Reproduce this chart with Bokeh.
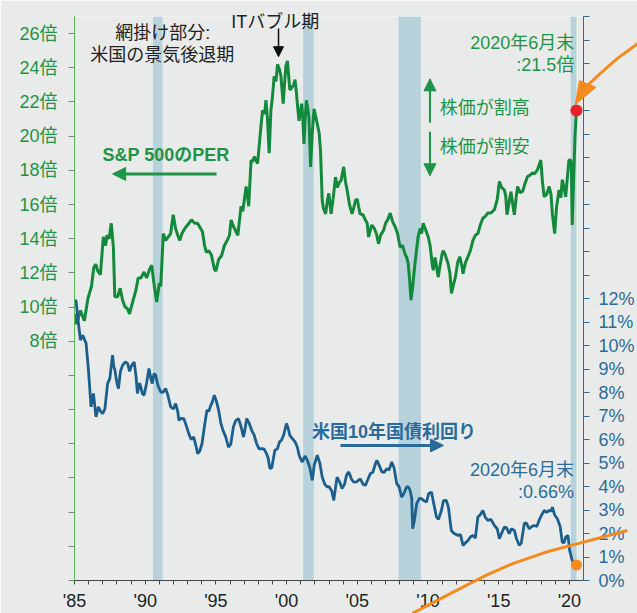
from bokeh.plotting import figure
from bokeh.models import Range1d, LinearAxis, FixedTicker, Label, Arrow, NormalHead
from bokeh.core.properties import value
from bokeh.embed import file_html
from bokeh.resources import INLINE

# ---------------- data ----------------
per_year = [1985.00, 1985.15, 1985.42, 1985.70, 1985.95, 1986.20, 1986.36, 1986.50, 1986.65, 1986.83,
            1987.04, 1987.20, 1987.30, 1987.45, 1987.60, 1987.75, 1987.85, 1988.05, 1988.23, 1988.40,
            1988.58, 1988.75, 1988.89, 1989.05, 1989.15, 1989.35, 1989.50, 1989.70, 1989.92, 1990.10,
            1990.30, 1990.46, 1990.60, 1990.81, 1991.00, 1991.10, 1991.28, 1991.45, 1991.63, 1991.80,
            1991.98, 1992.15, 1992.30, 1992.45, 1992.60, 1992.80, 1993.00, 1993.27, 1993.50, 1993.70,
            1993.85, 1994.05, 1994.20, 1994.33, 1994.50, 1994.68, 1994.90, 1995.00, 1995.20, 1995.40,
            1995.60, 1995.80, 1995.96, 1996.08, 1996.20, 1996.43, 1996.55, 1996.78, 1996.90, 1997.14,
            1997.25, 1997.32, 1997.49, 1997.60, 1997.72, 1997.95, 1998.19, 1998.30, 1998.45, 1998.54,
            1998.65, 1998.77, 1998.89, 1999.00, 1999.12, 1999.25, 1999.36, 1999.50, 1999.60, 1999.70,
            1999.76, 1999.85, 1999.95, 2000.06, 2000.15, 2000.23, 2000.41, 2000.50, 2000.60, 2000.70,
            2000.76, 2000.88, 2001.00, 2001.07, 2001.15, 2001.23, 2001.30, 2001.40, 2001.50, 2001.58,
            2001.70, 2001.80, 2001.94, 2002.05, 2002.17, 2002.30, 2002.40, 2002.52, 2002.60, 2002.76,
            2002.90, 2002.99, 2003.10, 2003.15, 2003.30, 2003.46, 2003.60, 2003.70, 2003.85, 2004.04,
            2004.15, 2004.28, 2004.45, 2004.63, 2004.75, 2004.87, 2005.00, 2005.10, 2005.20, 2005.40,
            2005.57, 2005.70, 2005.80, 2005.95, 2006.03, 2006.20, 2006.35, 2006.50, 2006.65, 2006.86,
            2007.00, 2007.15, 2007.33, 2007.50, 2007.68, 2007.85, 2008.03, 2008.20, 2008.38, 2008.50,
            2008.60, 2008.70, 2008.80, 2008.92, 2009.08, 2009.20, 2009.30, 2009.45, 2009.55, 2009.66,
            2009.80, 2010.02, 2010.15, 2010.30, 2010.37, 2010.50, 2010.60, 2010.72, 2010.85, 2011.00,
            2011.07, 2011.20, 2011.42, 2011.55, 2011.66, 2011.80, 2011.94, 2012.10, 2012.25, 2012.40,
            2012.48, 2012.65, 2012.83, 2013.00, 2013.18, 2013.35, 2013.53, 2013.70, 2013.88, 2014.05,
            2014.23, 2014.45, 2014.70, 2014.90, 2015.05, 2015.20, 2015.40, 2015.50, 2015.59, 2015.75,
            2015.87, 2016.00, 2016.11, 2016.25, 2016.34, 2016.50, 2016.69, 2016.85, 2017.05, 2017.20,
            2017.40, 2017.55, 2017.75, 2017.90, 2017.98, 2018.10, 2018.22, 2018.40, 2018.57, 2018.70,
            2018.80, 2018.96, 2019.10, 2019.27, 2019.40, 2019.50, 2019.62, 2019.74, 2019.85, 2019.97,
            2020.08, 2020.14, 2020.20, 2020.30, 2020.40, 2020.50]
per_val = [9.6, 9.0, 9.8, 9.2, 10.5, 11.2, 12.3, 12.5, 12.1, 11.9,
           14.1, 13.6, 14.2, 14.0, 14.9, 13.5, 10.6, 10.6, 11.1, 10.4,
           10.0, 9.9, 9.6, 10.1, 10.4, 11.0, 11.7, 11.7, 12.05, 11.7,
           12.2, 12.45, 11.5, 10.3, 11.4, 11.2, 14.3, 13.9, 14.1, 14.3,
           15.4, 14.6, 14.2, 13.9, 14.3, 14.6, 14.8, 15.1, 14.9, 14.9,
           14.7, 14.4, 13.6, 13.2, 13.3, 13.05, 12.2, 12.1, 12.8, 13.0,
           13.6, 13.9, 14.2, 15.1, 14.8, 14.4, 14.2, 15.9, 15.6, 17.05,
           16.4, 15.9, 18.6, 18.5, 18.8, 18.4, 20.6, 21.5, 21.3, 22.1,
           21.0, 19.0, 21.5, 22.3, 23.5, 23.2, 24.2, 23.9, 23.5, 22.5,
           21.9, 23.0, 24.1, 24.4, 23.5, 22.7, 22.9, 23.0, 23.3, 22.5,
           21.9, 20.9, 21.5, 21.9, 21.0, 19.55, 20.8, 22.1, 21.6, 21.1,
           18.2, 20.0, 21.6, 21.2, 20.7, 20.2, 19.15, 16.25, 15.8, 15.45,
           16.3, 16.65, 15.8, 15.45, 16.4, 17.6, 17.0, 17.25, 17.4, 18.2,
           17.4, 16.85, 16.0, 15.45, 15.8, 16.25, 16.3, 15.85, 15.45, 15.4,
           15.1, 14.9, 14.1, 14.6, 14.8, 14.6, 14.3, 13.7, 14.2, 14.5,
           14.9, 15.1, 15.5, 15.0, 14.7, 14.3, 13.5, 13.6, 13.1, 12.9,
           12.55, 11.6, 10.4, 11.2, 12.55, 13.4, 14.1, 14.6, 14.3, 14.9,
           14.6, 14.1, 13.6, 12.5, 12.15, 12.9, 12.4, 11.75, 12.4, 13.1,
           13.3, 13.1, 12.55, 12.0, 10.8, 11.3, 11.75, 12.6, 12.95, 12.4,
           11.95, 12.6, 12.95, 13.3, 13.9, 14.2, 14.3, 14.8, 15.2, 15.3,
           15.5, 15.5, 15.7, 16.3, 17.35, 17.0, 16.85, 16.5, 15.4, 16.2,
           16.75, 16.0, 15.4, 16.5, 17.05, 16.7, 16.75, 17.2, 17.65, 17.7,
           17.85, 17.8, 18.05, 18.4, 18.6, 17.3, 16.45, 16.6, 17.05, 16.6,
           15.45, 14.3, 15.9, 16.85, 16.4, 17.45, 17.0, 16.45, 17.5, 18.6,
           18.6, 18.4, 14.8, 17.5, 20.0, 21.5]

yld_year = [1985.00, 1985.10, 1985.28, 1985.42, 1985.58, 1985.82, 1985.98, 1986.17, 1986.34, 1986.52,
            1986.69, 1986.85, 1986.99, 1987.15, 1987.34, 1987.50, 1987.69, 1987.78, 1987.86, 1988.00,
            1988.11, 1988.25, 1988.40, 1988.60, 1988.75, 1988.90, 1988.99, 1989.10, 1989.22, 1989.35,
            1989.45, 1989.60, 1989.69, 1989.80, 1989.92, 1990.10, 1990.27, 1990.40, 1990.50, 1990.62,
            1990.74, 1990.90, 1991.09, 1991.25, 1991.44, 1991.60, 1991.80, 1992.00, 1992.15, 1992.30,
            1992.38, 1992.55, 1992.73, 1992.90, 1993.08, 1993.25, 1993.43, 1993.60, 1993.71, 1993.85,
            1994.02, 1994.20, 1994.37, 1994.50, 1994.60, 1994.75, 1994.89, 1995.05, 1995.19, 1995.35,
            1995.50, 1995.70, 1995.89, 1996.05, 1996.24, 1996.40, 1996.60, 1996.80, 1996.95, 1997.05,
            1997.18, 1997.35, 1997.53, 1997.70, 1997.88, 1998.05, 1998.23, 1998.40, 1998.58, 1998.70,
            1998.82, 1998.95, 1999.17, 1999.35, 1999.50, 1999.64, 1999.80, 1999.99, 2000.10, 2000.23,
            2000.41, 2000.60, 2000.76, 2000.90, 2001.11, 2001.30, 2001.47, 2001.65, 2001.82, 2001.95,
            2002.17, 2002.35, 2002.52, 2002.70, 2002.87, 2003.00, 2003.20, 2003.34, 2003.45, 2003.57,
            2003.75, 2003.92, 2004.10, 2004.25, 2004.40, 2004.60, 2004.75, 2004.95, 2005.22, 2005.40,
            2005.57, 2005.75, 2005.92, 2006.10, 2006.30, 2006.39, 2006.55, 2006.74, 2006.90, 2007.09,
            2007.25, 2007.44, 2007.60, 2007.79, 2007.95, 2008.14, 2008.30, 2008.49, 2008.60, 2008.73,
            2008.85, 2008.92, 2009.05, 2009.20, 2009.40, 2009.55, 2009.70, 2009.90, 2010.05, 2010.25,
            2010.40, 2010.60, 2010.75, 2010.95, 2011.10, 2011.30, 2011.45, 2011.65, 2011.85, 2012.13,
            2012.30, 2012.48, 2012.65, 2012.83, 2013.00, 2013.18, 2013.35, 2013.53, 2013.70, 2013.88,
            2014.05, 2014.23, 2014.45, 2014.70, 2014.90, 2015.05, 2015.20, 2015.40, 2015.55, 2015.75,
            2015.90, 2016.11, 2016.25, 2016.46, 2016.60, 2016.81, 2016.95, 2017.16, 2017.35, 2017.51,
            2017.70, 2017.86, 2018.05, 2018.22, 2018.40, 2018.57, 2018.70, 2018.80, 2018.95, 2019.15,
            2019.35, 2019.50, 2019.62, 2019.74, 2019.90, 2020.02, 2020.20, 2020.35, 2020.50]
yld_val = [11.8, 11.94, 10.94, 10.23, 10.44, 10.09, 9.02, 7.39, 7.96, 6.96,
           7.39, 7.2, 7.1, 7.3, 8.38, 8.6, 9.59, 9.1, 8.95, 8.4,
           8.17, 8.9, 9.16, 9.3, 9.24, 8.9, 9.09, 9.2, 9.3, 8.7,
           7.96, 8.4, 8.24, 7.95, 7.89, 8.4, 9.02, 8.6, 8.38, 8.8,
           8.74, 8.3, 8.03, 8.0, 8.17, 7.9, 7.39, 7.3, 7.53, 7.2,
           6.82, 6.9, 6.89, 6.6, 6.25, 6.0, 6.11, 5.7, 5.4, 5.5,
           5.83, 6.6, 7.25, 7.2, 7.39, 7.6, 7.89, 7.6, 7.25, 6.7,
           6.39, 6.1, 5.68, 5.8, 6.54, 6.8, 6.89, 6.5, 6.11, 6.4,
           6.89, 6.7, 6.39, 6.2, 5.83, 5.6, 5.61, 5.6, 5.4, 5.2,
           4.76, 4.8, 5.54, 5.6, 5.9, 5.97, 6.2, 6.68, 6.5, 6.18,
           6.04, 5.9, 5.68, 5.3, 5.04, 5.3, 5.11, 4.8, 4.26, 4.9,
           5.33, 5.0, 4.4, 4.1, 3.98, 4.0, 3.8, 3.41, 3.9, 4.4,
           4.2, 3.91, 4.1, 4.5, 4.62, 4.3, 4.19, 4.2, 4.33, 4.1,
           4.05, 4.3, 4.55, 4.6, 5.0, 5.11, 4.9, 4.62, 4.6, 4.76,
           4.7, 5.04, 4.8, 4.12, 4.0, 3.55, 3.7, 3.98, 4.0, 3.84,
           3.5, 2.2, 2.6, 3.27, 3.5, 3.48, 3.4, 3.34, 3.7, 3.76,
           3.3, 2.7, 2.6, 2.98, 3.4, 3.41, 3.1, 2.13, 2.0, 1.92,
           1.95, 1.49, 1.6, 1.7, 1.85, 1.92, 1.8, 2.7, 2.8, 2.98,
           2.7, 2.56, 2.6, 2.34, 2.2, 1.78, 2.0, 2.27, 2.25, 1.99,
           2.2, 2.13, 1.8, 1.49, 1.6, 2.42, 2.45, 2.2, 2.3, 2.34,
           2.3, 2.56, 2.8, 2.98, 2.9, 2.98, 2.95, 3.12, 2.8, 2.63,
           2.3, 1.63, 1.6, 1.85, 1.92, 1.28, 0.85, 0.7, 0.66]

recession_start = [1990.55, 2001.17, 2007.92, 2020.10]
recession_end = [1991.22, 2001.92, 2009.50, 2020.50]

last_year = 2020.5
last_per = 21.5
last_yld = 0.66

x_ticks = list(range(1985, 2021))
x_labels = {y: ("'%02d" % (y % 100)) if y % 5 == 0 else "" for y in x_ticks}
per_ticks = list(range(-6, 27, 2))
per_labels = {t: (f"{t}倍" if t >= 8 else "") for t in per_ticks}
yld_ticks = list(range(0, 25))
yld_labels = {t: (f"{t}%" if t <= 12 else "") for t in yld_ticks}

# decoration curves (orange call-out arrows), in data units
deco_top_x = [2024.9, 2023.4, 2022.1, 2021.2, 2020.8]
deco_top_y = [25.45, 24.55, 23.6, 22.9, 22.6]
deco_head_x = [2020.72, 2021.88, 2020.42]
deco_head_y = [23.25, 22.86, 21.85]
deco_bot_x = [2008.9, 2010.8, 2012.4, 2014.2, 2016.0, 2018.3, 2020.8, 2024.1]
deco_bot_y = [-1.4, -0.8, -0.3, 0.25, 0.72, 1.2, 1.6, 2.13]

# ---------------- style ----------------
BG = "#e9ebea"
BAND = "#b8d2db"
GREEN = "#13893b"
GREEN_T = "#1e9546"
BLUE = "#1b5f8c"
BLUE_T = "#2a6b9b"
ORANGE = "#f58a1f"
RED = "#e5232b"
FONT = "Liberation Sans, Noto Sans CJK JP"

p = figure(width=637, height=613, output_backend="svg", toolbar_location=None,
           x_range=Range1d(1985, 2021), y_range=Range1d(-6, 27),
           min_border_left=74, min_border_right=51, min_border_top=16, min_border_bottom=33,
           background_fill_color=BG, border_fill_color=BG, outline_line_color=None)
p.extra_y_ranges = {"yld": Range1d(0, 24)}
p.grid.visible = False

# bands
p.quad(left=recession_start, right=recession_end, bottom=[-6] * 4, top=[27] * 4,
       fill_color=BAND, line_color=None)

# series
p.line(per_year, per_val, line_color=GREEN, line_width=3)
p.line(yld_year, yld_val, line_color=BLUE, line_width=2.8, y_range_name="yld")
p.scatter([last_year], [last_per], size=12, fill_color=RED, line_color=None)
p.scatter([last_year], [last_yld], size=11, fill_color=ORANGE, line_color=None, y_range_name="yld")

# orange decorations
p.line(deco_top_x, deco_top_y, line_color=ORANGE, line_width=3, level="overlay")
p.patch(deco_head_x, deco_head_y, fill_color=ORANGE, line_color=ORANGE, level="overlay")
p.line(deco_bot_x, deco_bot_y, line_color=ORANGE, line_width=3, level="overlay", y_range_name="yld")

# axes
xa = p.xaxis[0]
xa.ticker = FixedTicker(ticks=x_ticks)
xa.major_label_overrides = x_labels
xa.axis_line_color = "#444444"
xa.major_tick_line_color = "#444444"
xa.major_tick_out = 4
xa.major_tick_in = 0
xa.minor_tick_line_color = None
xa.major_label_standoff = 6
xa.major_label_text_font = FONT
xa.major_label_text_font_size = "18px"
xa.major_label_text_color = "#222222"

ya = p.yaxis[0]
ya.ticker = FixedTicker(ticks=per_ticks)
ya.major_label_overrides = per_labels
ya.axis_line_color = "#5cb85c"
ya.major_tick_line_color = "#7a8a7a"
ya.major_tick_out = 6
ya.major_tick_in = 0
ya.minor_tick_line_color = None
ya.major_label_standoff = 11
ya.major_label_text_font = FONT
ya.major_label_text_font_size = "18px"
ya.major_label_text_color = GREEN_T

ra = LinearAxis(y_range_name="yld", ticker=FixedTicker(ticks=yld_ticks),
                major_label_overrides=yld_labels)
ra.axis_line_color = BLUE_T
ra.major_tick_line_color = BLUE_T
ra.major_tick_out = 6
ra.major_tick_in = 0
ra.minor_tick_line_color = None
ra.major_label_standoff = 9
ra.major_label_text_font = FONT
ra.major_label_text_font_size = "18px"
ra.major_label_text_color = BLUE_T
p.add_layout(ra, "right")


def lab(x, y, text, color, align="left", bold=False, rng="default"):
    p.add_layout(Label(x=x, y=y, text=text, text_color=color, text_align=align,
                       text_baseline="middle", text_font=FONT, text_font_size="18px",
                       text_font_style="bold" if bold else "normal", y_range_name=rng,
                       level="overlay"))


lab(1991.25, 26.05, "網掛け部分:", "#222222", "center")
lab(1991.2, 24.76, "米国の景気後退期", "#222222", "center")
# top label reaches above the frame: draw as an unclipped overlay glyph
p.text(x=[1999.2], y=[26.7], text=["ITバブル期"], text_color="#222222", text_align="center",
       text_baseline="middle", text_font=value(FONT), text_font_size="18px", level="overlay")
lab(1991.47, 18.9, "S&P 500のPER", GREEN_T, "center", bold=True)
lab(2020.35, 25.47, "2020年6月末", GREEN_T, "right")
lab(2020.35, 24.18, ":21.5倍", GREEN_T, "right")
lab(2010.84, 21.66, "株価が割高", GREEN_T)
lab(2010.84, 19.37, "株価が割安", GREEN_T)
lab(2001.8, 6.31, "米国10年国債利回り", BLUE_T, bold=True, rng="yld")
lab(2020.33, 4.69, "2020年6月末", BLUE_T, "right", rng="yld")
lab(2020.33, 3.75, ":0.66%", BLUE_T, "right", rng="yld")


def arrow(x0, y0, x1, y1, color, w, size, rng="default"):
    p.add_layout(Arrow(end=NormalHead(size=size, fill_color=color, line_color=color),
                       x_start=x0, y_start=y0, x_end=x1, y_end=y1,
                       line_color=color, line_width=w, y_range_name=rng))


arrow(1999.43, 26.3, 1999.43, 24.65, "#111111", 1.5, 10)
arrow(1995.05, 17.79, 1987.7, 17.79, GREEN_T, 3, 13)
arrow(2010.14, 20.78, 2010.14, 23.35, GREEN_T, 2, 12)
arrow(2010.14, 20.25, 2010.14, 17.68, GREEN_T, 2, 12)
arrow(2003.81, 5.75, 2011.1, 5.75, BLUE_T, 3, 13, rng="yld")

open("out.html", "w").write(file_html(p, INLINE))
